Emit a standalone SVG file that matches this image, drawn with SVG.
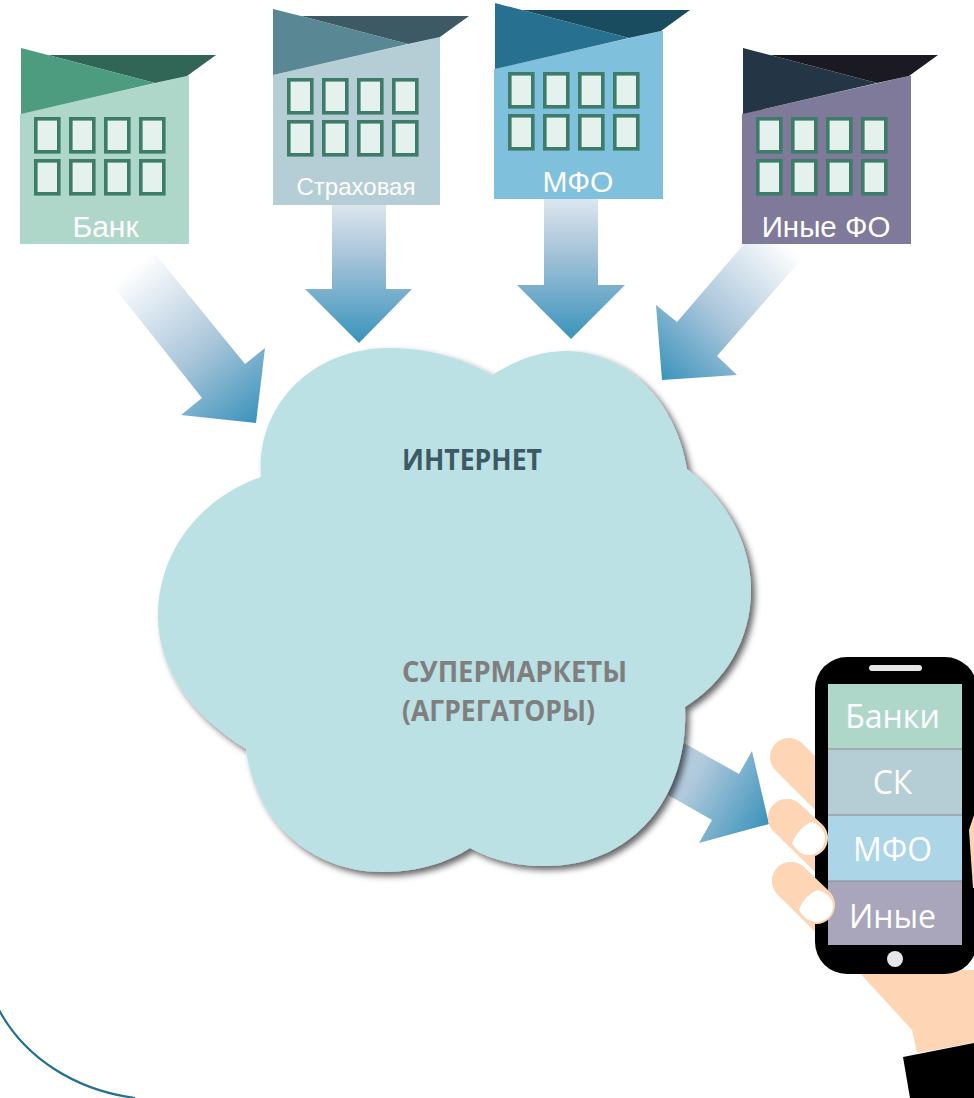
<svg xmlns="http://www.w3.org/2000/svg" xmlns:xlink="http://www.w3.org/1999/xlink" width="974" height="1098" viewBox="0 0 974 1098">
<style>
.win{fill:#e4f1ec;stroke:#3c7c69;stroke-width:3.600}
.lbl{font-family:"Liberation Sans",Arial,sans-serif;fill:#fff;text-anchor:middle}
.cl{font-family:"Open Sans","Noto Sans",sans-serif;font-weight:700;font-size:28px}
.ph{font-family:"Open Sans","Noto Sans",sans-serif;font-size:32px;fill:#fff;text-anchor:middle}
.skin{fill:#fed6b6}
.fg{stroke:#fed6b6;stroke-linecap:round;fill:none}
</style>
<defs>
<linearGradient id="g1" gradientUnits="userSpaceOnUse" x1="132" y1="268" x2="256" y2="423"><stop offset="0" stop-color="#fff"/><stop offset=".55" stop-color="#a9c5da"/><stop offset="1" stop-color="#3a93bb"/></linearGradient>
<linearGradient id="g2" gradientUnits="userSpaceOnUse" x1="359" y1="195" x2="359" y2="343"><stop offset="0" stop-color="#e6ecf2"/><stop offset=".4" stop-color="#a9c5da"/><stop offset="1" stop-color="#3a93bb"/></linearGradient>
<linearGradient id="g3" gradientUnits="userSpaceOnUse" x1="571" y1="190" x2="571" y2="339"><stop offset="0" stop-color="#e6ecf2"/><stop offset=".4" stop-color="#a9c5da"/><stop offset="1" stop-color="#3a93bb"/></linearGradient>
<linearGradient id="g4" gradientUnits="userSpaceOnUse" x1="790" y1="246" x2="662" y2="380"><stop offset="0" stop-color="#fff"/><stop offset=".55" stop-color="#a9c5da"/><stop offset="1" stop-color="#3a93bb"/></linearGradient>
<linearGradient id="g5" gradientUnits="userSpaceOnUse" x1="668" y1="765" x2="769" y2="824"><stop offset="0" stop-color="#b8cfe0"/><stop offset=".25" stop-color="#b0c9dc"/><stop offset="1" stop-color="#3a93bb"/></linearGradient>
<filter id="sh" x="-5%" y="-5%" width="112%" height="112%"><feDropShadow dx="4" dy="4" stdDeviation="3" flood-color="#000" flood-opacity=".6"/></filter>
<g id="windows">
<rect class="win" x="35.800" y="118.800" width="23" height="33"/><rect class="win" x="70.800" y="118.800" width="23" height="33"/><rect class="win" x="105.800" y="118.800" width="23" height="33"/><rect class="win" x="140.800" y="118.800" width="23" height="33"/>
<rect class="win" x="35.800" y="160.800" width="23" height="33"/><rect class="win" x="70.800" y="160.800" width="23" height="33"/><rect class="win" x="105.800" y="160.800" width="23" height="33"/><rect class="win" x="140.800" y="160.800" width="23" height="33"/>
</g>
</defs>
<g id="bottom-arc"><path d="M-1 1010C25 1058 75 1090 135 1098" fill="none" stroke="#24708f" stroke-width="2.200"/></g>
<g id="connectors">
<polygon fill="url(#g1)" points="148,245 245,364 265,348 256,423 181,415 202,398 102,272"/>
<polygon fill="url(#g2)" points="332,205 386,205 386,289 412,289 359,343 305,289 332,289"/>
<polygon fill="url(#g3)" points="544,199 598,199 598,285 625,285 571,339 517,285 544,285"/>
<polygon fill="url(#g4)" points="744,244 815,244 717,356 737,375 662,380 656,305 677,322"/>
<polygon fill="url(#g5)" points="684,743 739,774 752,751 769,824 699,843 712,820 668,795"/>
</g>
<g id="bank">
<polygon fill="#aed7ca" points="20,114 187,76 189,76 189,244 20,244"/>
<polygon fill="#316656" points="48,55 216,55 187,76 155,83"/>
<polygon fill="#4d9c80" points="21,48 48,55 155,83 21,114"/>
<use xlink:href="#windows" href="#windows"/>
<text class="lbl" x="105.500" y="237" font-size="30">Банк</text>
</g>
<g id="insurance" transform="translate(253 -39)">
<polygon fill="#b5cdd4" points="20,114 187,76 187,76 187,244 20,244"/>
<polygon fill="#3d5a64" points="48,55 216,55 187,76 155,83"/>
<polygon fill="#5a8794" points="20,48 48,55 155,83 20,114"/>
<use xlink:href="#windows" href="#windows"/>
<text class="lbl" x="103" y="234" font-size="24">Страховая</text>
</g>
<g id="mfo" transform="translate(474 -45)">
<polygon fill="#7fc0dc" points="20,114 187,76 189,76 189,244 20,244"/>
<polygon fill="#1a4c60" points="48,55 216,55 187,76 155,83"/>
<polygon fill="#27708f" points="21,48 48,55 155,83 21,114"/>
<use xlink:href="#windows" href="#windows"/>
<text class="lbl" x="104" y="237" font-size="30">МФО</text>
</g>
<g id="other" transform="translate(722 0)">
<polygon fill="#7f7a99" points="20,114 187,76 189,76 189,244 20,244"/>
<polygon fill="#1b1a22" points="48,55 216,55 187,76 155,83"/>
<polygon fill="#243646" points="21,48 48,55 155,83 21,114"/>
<use xlink:href="#windows" href="#windows"/>
<text class="lbl" x="104" y="237" font-size="29.500">Иные ФО</text>
</g>
<g id="cloud">
<path filter="url(#sh)" fill="#bbe1e4" d="M261 477C256 405 312 348 389 348C428 348 462 358 492 375C516 360 540 351 566 351C625 351 676 400 687 469C727 500 751 545 751 590C751 640 725 682 685 707C689 800 630 866 546 866C516 866 492 860 470 848C445 864 415 872 383 872C310 872 255 820 246 749C193 716 158 670 158 616C158 552 200 498 261 477Z"/>
<text class="cl" x="402" y="470" fill="#3d5a64" textLength="140" lengthAdjust="spacingAndGlyphs">ИНТЕРНЕТ</text>
<text class="cl" x="402" y="682" fill="#7f7f7f" textLength="225" lengthAdjust="spacingAndGlyphs">СУПЕРМАРКЕТЫ</text>
<text class="cl" x="402" y="721" fill="#7f7f7f" textLength="193" lengthAdjust="spacingAndGlyphs">(АГРЕГАТОРЫ)</text>
</g>
<g id="hand-back">
<polygon class="skin" points="857,970 974,970 974,1043 917,1053 912,1030"/>
<path class="fg" stroke-width="38" d="M789 757L840 808"/>
<path class="fg" stroke-width="38" d="M787 818L840 870"/>
<path class="fg" stroke-width="38" d="M791 881L840 930"/>
</g>
<g id="phone">
<rect x="815" y="657" width="162" height="317" rx="32" fill="#000"/>
<rect x="828" y="684" width="134" height="65" fill="#aed7ca"/>
<rect x="828" y="749" width="134" height="66" fill="#b5cdd4"/>
<rect x="828" y="815" width="134" height="66" fill="#acd5e8"/>
<rect x="828" y="881" width="134" height="64" fill="#a9a5bb"/>
<path d="M828 749H962M828 815H962M828 881H962" stroke="#888" stroke-width="1"/>
<rect x="869" y="665" width="53" height="6" rx="3" fill="#e6e6e6"/>
<circle cx="895" cy="959" r="8" fill="#e6e6e6"/>
<text class="ph" x="892.500" y="728">Банки</text>
<text class="ph" x="892.500" y="794">СК</text>
<text class="ph" x="892.500" y="861">МФО</text>
<text class="ph" x="892.500" y="928">Иные</text>
</g>
<g id="hand-front">
<path class="fg" stroke-width="38" d="M787 818L809 838"/>
<path class="fg" stroke-width="38" d="M791 881L816 905"/>
<path fill="#fff" d="M792 843C797 832 804 825 812 822C820 825 825 831 825 838C825 849 816 855 808 855C802 855 796 850 792 843Z"/>
<path fill="#fff" d="M799 910C803 899 810 893 818 890C827 893 833 898 833 906C833 916 824 922 816 922C809 922 803 917 799 910Z"/>
<polygon class="skin" points="974,815 969,830 973,888 974,888"/>
<polygon fill="#000" points="903,1057 974,1043 974,1098 910,1098"/>
</g>
</svg>
